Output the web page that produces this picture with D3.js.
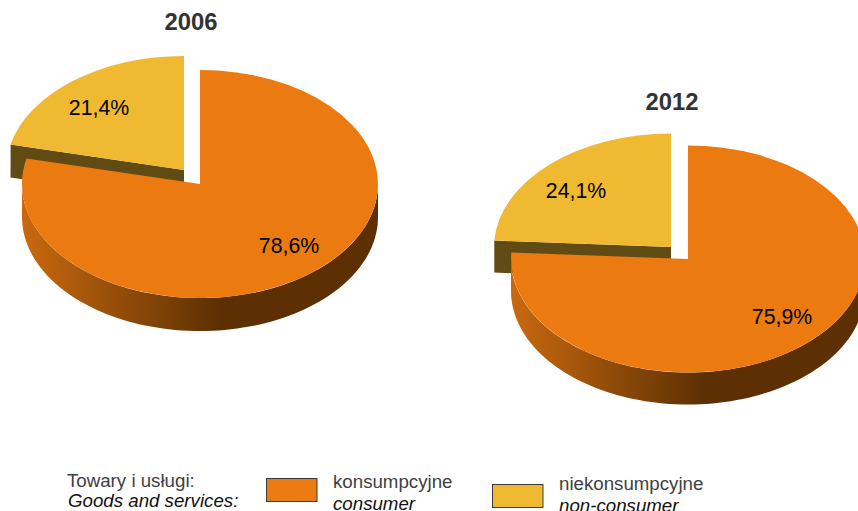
<!DOCTYPE html>
<html><head><meta charset="utf-8">
<script src="https://cdnjs.cloudflare.com/ajax/libs/d3/7.8.5/d3.min.js"></script>
<style>html,body{margin:0;padding:0;background:#fff;overflow:hidden}svg{display:block}text{font-family:"Liberation Sans",Arial,sans-serif}</style>
</head><body><svg id="c" width="858" height="511"></svg>
<script>
const years = ["2006", "2012"];
const consumer = [78.6, 75.9];
const nonConsumer = [21.4, 24.1];
const categoriesPl = ["konsumpcyjne", "niekonsumpcyjne"];
const categoriesEn = ["consumer", "non-consumer"];
const legendTitlePl = "Towary i usługi:";
const legendTitleEn = "Goods and services:";
const fmt = v => v.toFixed(1).replace(".", ",") + "%";

const layouts = [
  {title:[191,30], orange:[200,184], yellow:[184,170], rx:178, ry:114, depth:33, lo:[289,253], ly:[99,114.5], grad:[22,220]},
  {title:[672,110], orange:[688,259], yellow:[671,247], rx:177, ry:113.5, depth:32, lo:[782,323.5], ly:[576,197.5], grad:[511,705]}
];
const ORANGE="#eb7a10", YELLOW="#f0b932", CUT="#614b14";
const svg=d3.select("#c");
const defs=svg.append("defs");
const pie=d3.pie().sort(null).startAngle(0).endAngle(2*Math.PI);
const arc=d3.arc().innerRadius(0).outerRadius(1);
const pt=(c,L,a,dy=0)=>[c[0]+L.rx*Math.sin(a), c[1]-L.ry*Math.cos(a)+dy];

years.forEach((yr,i)=>{
  const L=layouts[i];
  const [oA,yA]=pie([consumer[i],nonConsumer[i]]);
  const g=svg.append("g");
  const gid="wall"+i;
  const lg=defs.append("linearGradient").attr("id",gid).attr("gradientUnits","userSpaceOnUse")
    .attr("x1",L.grad[0]).attr("x2",L.grad[1]).attr("y1",0).attr("y2",0);
  lg.append("stop").attr("offset",0).attr("stop-color","#c9690f");
  lg.append("stop").attr("offset",1).attr("stop-color","#5c3003");

  // yellow cut face, seen through the explosion gap
  const a=yA.startAngle, tip=L.yellow, edge=pt(L.yellow,L,a);
  g.append("path").attr("fill",CUT)
    .attr("d",d3.line()([tip,edge,[edge[0],edge[1]+L.depth],[tip[0],tip[1]+L.depth]]));
  g.append("path").attr("fill",YELLOW)
    .attr("transform",`translate(${L.yellow}) scale(${L.rx},${L.ry})`)
    .attr("d",arc(yA));

  // orange outer wall: front half of the ellipse, extruded
  const angles=d3.range(Math.PI/2,3*Math.PI/2+0.001,Math.PI/90);
  const top=angles.map(t=>pt(L.orange,L,t));
  const bottom=angles.map(t=>pt(L.orange,L,t,L.depth)).reverse();
  g.append("path").attr("fill",`url(#${gid})`).attr("d",d3.line()(top.concat(bottom))+"Z");
  g.append("path").attr("fill",ORANGE)
    .attr("transform",`translate(${L.orange}) scale(${L.rx},${L.ry})`)
    .attr("d",arc(oA));

  g.append("text").attr("x",L.title[0]).attr("y",L.title[1]).attr("text-anchor","middle")
    .attr("font-size",23.8).attr("font-weight","bold").attr("fill","#333").text(yr);
  g.append("text").attr("x",L.lo[0]).attr("y",L.lo[1]).attr("text-anchor","middle")
    .attr("font-size",21.3).attr("fill","#000").text(fmt(consumer[i]));
  g.append("text").attr("x",L.ly[0]).attr("y",L.ly[1]).attr("text-anchor","middle")
    .attr("font-size",21.3).attr("fill","#000").text(fmt(nonConsumer[i]));
});

// legend
const leg=svg.append("g").attr("font-size",18.7);
const PL="#404040", EN="#111";
leg.append("text").attr("x",67).attr("y",486.5).attr("fill",PL).text(legendTitlePl);
leg.append("text").attr("x",68).attr("y",506.5).attr("fill",EN).attr("font-style","italic").text(legendTitleEn);
const legItems=[{x:266,y:478,fill:ORANGE,tx:333,t1:488,t2:509.5},{x:492,y:484,fill:YELLOW,tx:559,t1:490,t2:512}];
legItems.forEach((d,i)=>{
  leg.append("rect").attr("x",d.x+.5).attr("y",d.y+.5).attr("width",50.5).attr("height",23)
    .attr("fill",d.fill).attr("stroke","#3a3a3a").attr("stroke-width",1);
  leg.append("text").attr("x",d.tx).attr("y",d.t1).attr("fill",PL).text(categoriesPl[i]);
  leg.append("text").attr("x",d.tx).attr("y",d.t2).attr("fill",EN).attr("font-style","italic").text(categoriesEn[i]);
});
</script></body></html>
